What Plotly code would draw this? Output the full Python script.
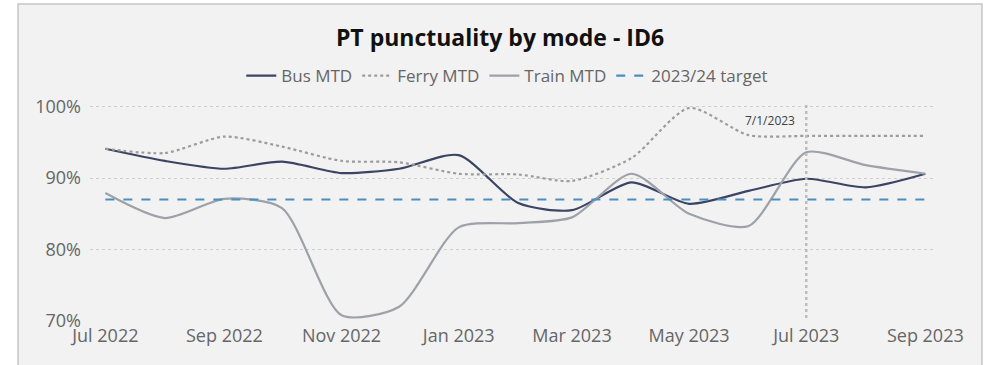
import plotly.graph_objects as go

# Monthly punctuality (month-to-date), Jul 2022 - Sep 2023
months = ["2022-07-01", "2022-08-01", "2022-09-01", "2022-10-01", "2022-11-01",
          "2022-12-01", "2023-01-01", "2023-02-01", "2023-03-01", "2023-04-01",
          "2023-05-01", "2023-06-01", "2023-07-01", "2023-08-01", "2023-09-01"]
bus_mtd = [94.1, 92.4, 91.3, 92.3, 90.7, 91.3, 93.2, 86.5, 85.5, 89.4, 86.4, 88.2, 89.9, 88.7, 90.6]
ferry_mtd = [94.1, 93.5, 95.8, 94.4, 92.4, 92.2, 90.6, 90.5, 89.6, 92.8, 99.8, 96.0, 95.9, 95.9, 95.9]
train_mtd = [87.9, 84.4, 87.1, 85.8, 70.8, 72.0, 83.1, 83.7, 84.5, 90.6, 85.0, 83.3, 93.6, 91.8, 90.6]
target = 87.0
marker_date = "2023-07-01"
marker_label = "7/1/2023"

tick_vals = ["2022-07-01", "2022-09-01", "2022-11-01", "2023-01-01", "2023-03-01",
             "2023-05-01", "2023-07-01", "2023-09-01"]
tick_text = ["Jul 2022", "Sep 2022", "Nov 2022", "Jan 2023", "Mar 2023",
             "May 2023", "Jul 2023", "Sep 2023"]

FONT = "Open Sans, Liberation Sans, Arial, sans-serif"
SMOOTH = 0.7

fig = go.Figure()
fig.add_trace(go.Scatter(x=months, y=bus_mtd, name="Bus MTD", mode="lines",
                         line=dict(color="#3b4563", width=2.2, shape="spline", smoothing=SMOOTH)))
fig.add_trace(go.Scatter(x=months, y=ferry_mtd, name="Ferry MTD", mode="lines",
                         line=dict(color="#9c9c9c", width=2.2, dash="dot", shape="spline", smoothing=SMOOTH)))
fig.add_trace(go.Scatter(x=months, y=train_mtd, name="Train MTD", mode="lines",
                         line=dict(color="#9da1a8", width=2.2, shape="spline", smoothing=SMOOTH)))
fig.add_trace(go.Scatter(x=[months[0], months[-1]], y=[target, target], name="2023/24 target",
                         mode="lines", line=dict(color="#4a8fbf", width=2.2, dash="dash")))

# card background with border
fig.add_shape(type="rect", xref="paper", yref="paper",
              x0=(18 - 90) / 843, x1=(982 - 90) / 843,
              y0=(321 - 370) / 218, y1=(321 - 4) / 218,
              fillcolor="#f2f2f2", line=dict(color="#c6c6c6", width=1.5), layer="below")

# date marker
fig.add_shape(type="line", xref="x", yref="paper", x0=marker_date, x1=marker_date,
              y0=(321 - 318) / 218, y1=1.0,
              line=dict(color="#bcbcc0", width=2.5, dash="dot"))
fig.add_annotation(x=marker_date, y=(321 - 121) / 218, xref="x", yref="paper",
                   text=marker_label, showarrow=False, xanchor="right", yanchor="middle",
                   xshift=-9, font=dict(family=FONT, size=12, color="#404040"))

fig.update_layout(
    width=987, height=365,
    margin=dict(l=90, r=54, t=103, b=44),
    paper_bgcolor="white", plot_bgcolor="rgba(0,0,0,0)",
    title=dict(text="<b>PT punctuality by mode - ID6</b>", x=500 / 987, xanchor="center",
               y=1 - 38 / 365, yanchor="middle",
               font=dict(family=FONT, size=23, color="#111111", weight=800)),
    legend=dict(orientation="h", x=0.495, xanchor="center", y=(321 - 76) / 218, yanchor="middle",
                font=dict(family=FONT, size=17, color="#666666"), bgcolor="rgba(0,0,0,0)",
                itemwidth=30, tracegroupgap=0),
    showlegend=True,
    xaxis=dict(range=["2022-06-23", "2023-09-05"], tickvals=tick_vals, ticktext=tick_text,
               showgrid=False, zeroline=False, showline=False, ticks="", ticklabelstandoff=2,
               tickfont=dict(family=FONT, size=18, color="#666666")),
    yaxis=dict(range=[70, 100.5], tickvals=[70, 80, 90, 100],
               ticktext=["70%", "80%", "90%", "100%"],
               showgrid=True, gridcolor="#cfcfcf", griddash="dot", gridwidth=1,
               zeroline=False, showline=False, ticks="", ticklabelstandoff=8,
               tickfont=dict(family=FONT, size=18, color="#666666")),
)

fig.write_html("out.html")
